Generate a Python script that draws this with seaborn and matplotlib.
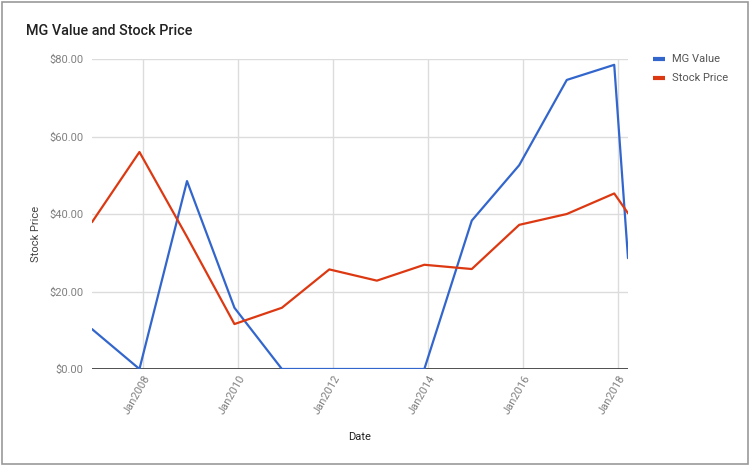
import pandas as pd
import numpy as np
import matplotlib
matplotlib.use("Agg")
import matplotlib.pyplot as plt
import matplotlib.dates as mdates
from matplotlib.patches import Rectangle
import seaborn as sns

# data
dates = ["2006-12-01", "2007-12-01", "2008-12-01", "2009-12-01", "2010-12-01",
         "2011-12-01", "2012-12-01", "2013-12-01", "2014-12-01", "2015-12-01",
         "2016-12-01", "2017-12-01", "2018-03-17"]
mg_value = [10.3, 0.0, 48.5, 15.8, 0.0, 0.0, 0.0, 0.0, 38.3, 52.6, 74.6, 78.5, 28.6]
stock_price = [37.9, 56.0, 34.1, 11.6, 15.8, 25.7, 22.8, 26.9, 25.8, 37.2, 40.0, 45.3, 40.2]
series_names = ["MG Value", "Stock Price"]
y_ticks = [0, 20, 40, 60, 80]
x_tick_years = [2008, 2010, 2012, 2014, 2016, 2018]

df = pd.DataFrame({
    "Date": pd.to_datetime(dates * 2),
    "value": mg_value + stock_price,
    "series": [series_names[0]] * len(dates) + [series_names[1]] * len(dates),
})

sns.set_style("white")
plt.rcParams["font.family"] = ["Roboto", "DejaVu Sans"]

fig = plt.figure(figsize=(7.52, 4.67), dpi=100)
ax = fig.add_axes([92 / 752, 1 - 369 / 467, (628 - 92) / 752, (369 - 59) / 467])

palette = {"MG Value": "#3366CC", "Stock Price": "#DC3912"}
sns.lineplot(data=df, x="Date", y="value", hue="series", palette=palette,
             linewidth=1.6, ax=ax, legend=False, zorder=3)

ax.set_xlim(pd.Timestamp("2006-12-01"), pd.Timestamp("2018-03-17"))
ax.set_ylim(0, 80)
ax.set_yticks(y_ticks)
ax.set_yticklabels([f"${v:.2f}" for v in y_ticks])
ax.set_xticks([pd.Timestamp(f"{y}-01-01") for y in x_tick_years])
ax.xaxis.set_major_formatter(mdates.DateFormatter("%b%Y"))

ax.grid(True, color="#dcdcdc", linewidth=1)
for s in ax.spines.values():
    s.set_visible(False)
ax.axhline(0, color="#333333", linewidth=1.2, zorder=2)
ax.tick_params(axis="both", length=0, labelsize=8, colors="#808080")
ax.tick_params(axis="y", pad=6)
for lab in ax.get_xticklabels():
    lab.set_rotation(60)
    lab.set_ha("right")
    lab.set_va("top")
    lab.set_rotation_mode("anchor")

ax.set_xlabel("Date", fontsize=8, color="#222222", labelpad=11)
ax.set_ylabel("Stock Price", fontsize=8, color="#444444", labelpad=6, y=0.435)

fig.text(26 / 752, 1 - 31 / 467, "MG Value and Stock Price", fontsize=10.4,
         fontweight="medium", color="#222222", va="center")

# legend
for i, name in enumerate(series_names):
    yy = 1 - (59 + 19 * i) / 467
    fig.add_artist(plt.Line2D([653 / 752, 665 / 752], [yy, yy], color=palette[name],
                              linewidth=3, solid_capstyle="butt"))
    fig.text(672 / 752, yy, name, fontsize=8, color="#555555", va="center")

# outer frame
fig.add_artist(Rectangle((2 / 752, 3 / 467), 746 / 752, 462 / 467, fill=False,
                         edgecolor="#999999", linewidth=1.2, transform=fig.transFigure))

fig.savefig("out.png", dpi=100)
